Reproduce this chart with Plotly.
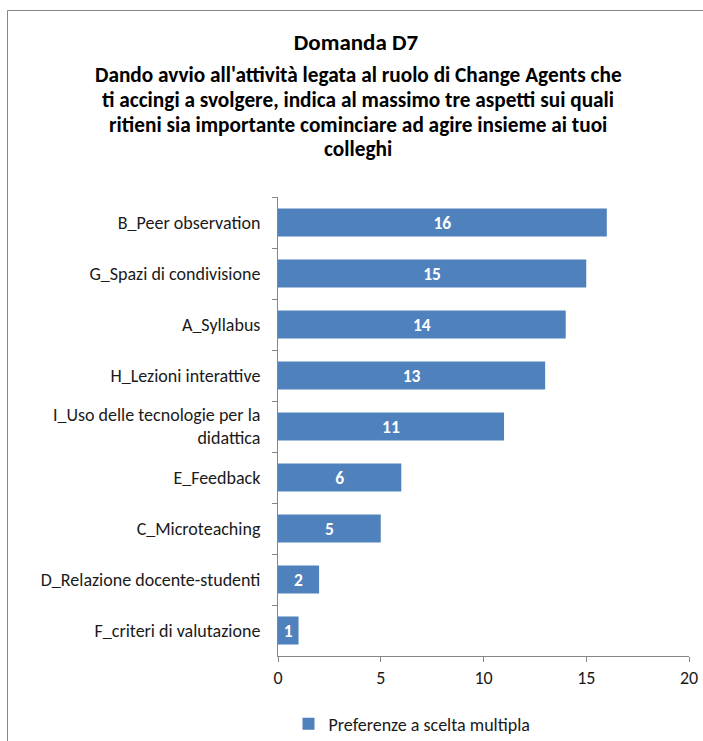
import plotly.graph_objects as go

# Survey answers, listed top to bottom as displayed
categories = [
    "B_Peer observation",
    "G_Spazi di condivisione",
    "A_Syllabus",
    "H_Lezioni interattive",
    "I_Uso delle tecnologie per la<br>didattica",
    "E_Feedback",
    "C_Microteaching",
    "D_Relazione docente-studenti",
    "F_criteri di valutazione",
]
values = [16, 15, 14, 13, 11, 6, 5, 2, 1]
series_name = "Preferenze a scelta multipla"

title_text = "Domanda D7"
subtitle_lines = [
    "Dando avvio all'attività legata al ruolo di Change Agents che",
    "ti accingi a svolgere, indica al massimo tre aspetti sui quali",
    "ritieni sia importante cominciare ad agire insieme ai tuoi",
    "colleghi",
]
x_ticks = [0, 5, 10, 15, 20]

W, H = 703, 741
ML, MR, MT, MB = 278, 14, 197, 85
PW, PH = W - ML - MR, H - MT - MB

FONT = "Carlito, Lato, Calibri, sans-serif"
BLUE = "#4F81BD"
AXIS = "#868686"
TEXT = "#1a1a1a"


def px_x(px):
    return (px - ML) / PW


def px_y(py):
    return (H - MB - py) / PH


fig = go.Figure(
    go.Bar(
        x=values,
        y=categories,
        orientation="h",
        name=series_name,
        marker=dict(color=BLUE, line=dict(width=0)),
        text=[str(v) for v in values],
        textposition="inside",
        insidetextanchor="middle",
        constraintext="none",
        textfont=dict(family=FONT, size=17.5, color="white", weight="bold"),
        showlegend=True,
    )
)

# Subtitle: one annotation per line so the line spacing can be set exactly
annotations = []
line_y = [74.5, 99.3, 124.1, 148.9]
for txt, py in zip(subtitle_lines, line_y):
    annotations.append(
        dict(
            text=txt,
            xref="paper",
            yref="paper",
            x=px_x(358),
            y=px_y(py),
            xanchor="center",
            yanchor="middle",
            height=23,
            valign="middle",
            showarrow=False,
            font=dict(family=FONT, size=21.3, color="black", weight="bold"),
        )
    )

fig.update_layout(
    width=W,
    height=H,
    margin=dict(l=ML, r=MR, t=MT, b=MB, autoexpand=False),
    paper_bgcolor="white",
    plot_bgcolor="white",
    font=dict(family=FONT, size=18, color=TEXT),
    title=dict(
        text=title_text,
        x=356 / W,
        xanchor="center",
        y=1 - 42 / H,
        yanchor="middle",
        font=dict(family=FONT, size=23, color="black", weight="bold"),
    ),
    annotations=annotations,
    bargap=0.45,
    showlegend=True,
    legend=dict(
        orientation="h",
        x=px_x(412),
        xanchor="center",
        y=px_y(724),
        yanchor="middle",
        font=dict(family=FONT, size=18, color=TEXT),
        itemwidth=30,
    ),
    shapes=[
        dict(
            type="rect",
            xref="paper",
            yref="paper",
            x0=px_x(7.5),
            x1=px_x(760),
            y0=px_y(800),
            y1=px_y(10.5),
            line=dict(color=AXIS, width=1),
            fillcolor="rgba(0,0,0,0)",
            layer="below",
        )
    ],
)

fig.update_xaxes(
    range=[0, 20],
    tickvals=x_ticks,
    ticks="outside",
    ticklen=5,
    tickcolor=AXIS,
    showline=True,
    linecolor=AXIS,
    linewidth=1,
    showgrid=False,
    zeroline=False,
    tickfont=dict(family=FONT, size=18, color=TEXT),
)

fig.update_yaxes(
    type="category",
    categoryorder="array",
    categoryarray=categories,
    autorange="reversed",
    ticks="outside",
    tickson="boundaries",
    ticklen=5,
    tickcolor=AXIS,
    showline=True,
    linecolor=AXIS,
    linewidth=1,
    showgrid=False,
    zeroline=False,
    ticklabelstandoff=13,
    tickfont=dict(family=FONT, size=18, color=TEXT),
)

fig.write_html("out.html")
